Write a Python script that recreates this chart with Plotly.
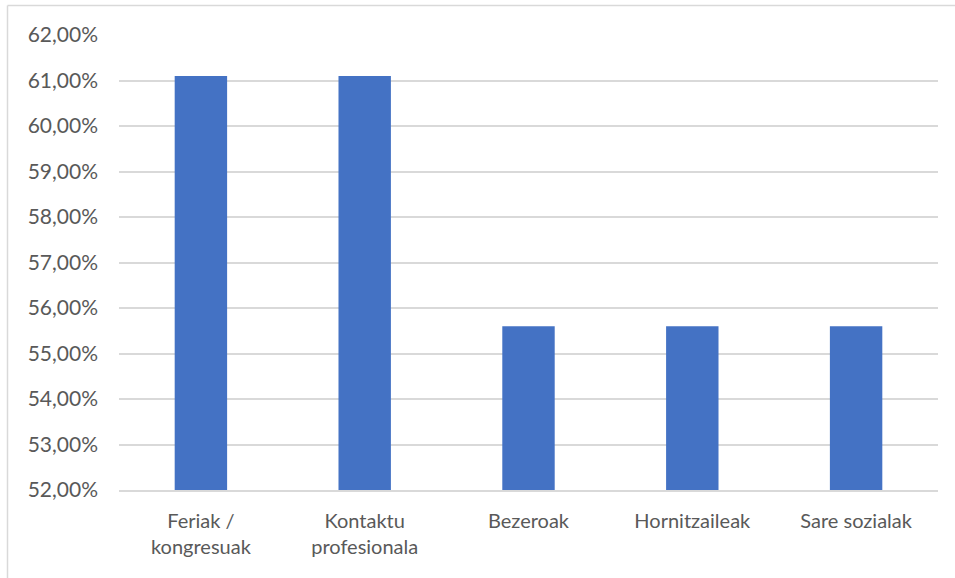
import plotly.graph_objects as go

categories = ["Feriak /<br>kongresuak", "Kontaktu<br>profesionala", "Bezeroak", "Hornitzaileak", "Sare sozialak"]
values = [61.1, 61.1, 55.6, 55.6, 55.6]
tick_vals = [52, 53, 54, 55, 56, 57, 58, 59, 60, 61, 62]
tick_text = [f"{v},00%" for v in tick_vals]

W, H = 955, 578
ml, mr, mt, mb = 119, 17, 35, 88
pw, ph = W - ml - mr, H - mt - mb

fig = go.Figure(go.Bar(
    x=categories, y=values,
    marker=dict(color="#4472C4", line=dict(width=0)),
    width=0.32,
))

yfont = dict(family="Lato, Open Sans, sans-serif", size=21, color="#595959")
xfont = dict(family="Lato, Open Sans, sans-serif", size=20, color="#595959")

fig.update_layout(
    width=W, height=H,
    margin=dict(l=ml, r=mr, t=mt, b=mb),
    paper_bgcolor="white", plot_bgcolor="white",
    showlegend=False,
    font=xfont,
    xaxis=dict(showgrid=False, showline=True, linecolor="#D9D9D9", linewidth=1.5,
               ticks="", tickfont=xfont, ticklabelstandoff=12),
    yaxis=dict(range=[52, 62], tickvals=tick_vals, ticktext=tick_text,
               showgrid=True, gridcolor="#D9D9D9", gridwidth=1.5,
               zeroline=False, showline=False, ticks="", tickfont=yfont,
               ticklabelstandoff=20),
    shapes=[
        dict(type="line", xref="paper", yref="paper",
             x0=(7.5 - ml) / pw, x1=(W + 5 - ml) / pw,
             y0=(H - mb - 5.5) / ph, y1=(H - mb - 5.5) / ph,
             line=dict(color="#D9D9D9", width=1.5)),
        dict(type="line", xref="paper", yref="paper",
             x0=(7.5 - ml) / pw, x1=(7.5 - ml) / pw,
             y0=(H - mb - 5.5) / ph, y1=(H - mb - H - 5) / ph,
             line=dict(color="#D9D9D9", width=1.5)),
    ],
)

fig.write_html("out.html", config={"displayModeBar": False},
               post_script="document.body.style.margin='0';document.body.style.overflow='hidden';")
